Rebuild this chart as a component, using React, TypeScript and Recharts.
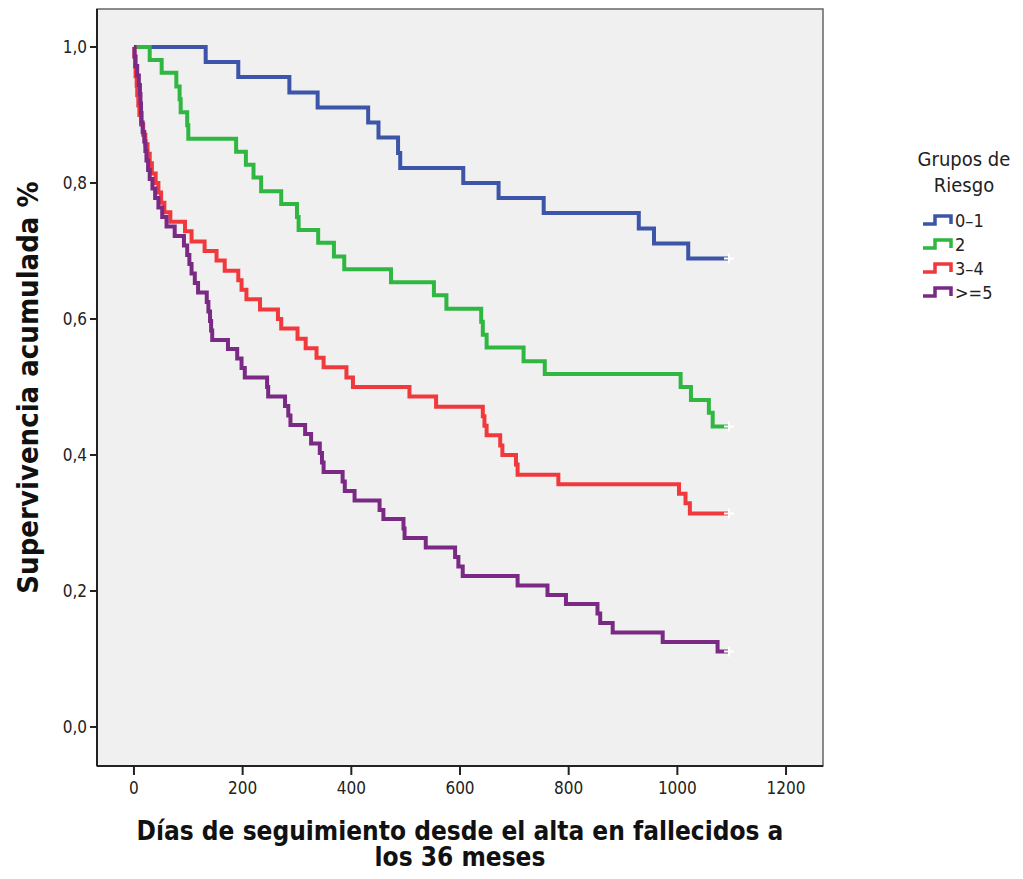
import { LineChart, Line, XAxis, YAxis, ReferenceArea, Label } from 'recharts'

// Kaplan-Meier estimates (days since discharge, cumulative survival)
const groupNames = ['0–1', '2', '3–4', '>=5']
const groupColors = ['#3d55a8', '#2fb742', '#f0393c', '#7a2a84']

const days01 = [0, 132, 192, 286, 338, 431, 450, 486, 490, 606, 671, 754, 929, 957, 1020, 1095]
const surv01 = [1, 0.978, 0.956, 0.933, 0.911, 0.889, 0.867, 0.844, 0.822, 0.8, 0.778, 0.756, 0.733, 0.711, 0.689, 0.689]

const days2 = [0, 29, 51, 78, 84, 86, 98, 100, 188, 206, 220, 234, 271, 300, 303, 339, 368, 387, 473, 552, 575, 639, 642, 649, 717, 756, 1006, 1025, 1058, 1065, 1095]
const surv2 = [1, 0.981, 0.962, 0.942, 0.923, 0.904, 0.885, 0.865, 0.846, 0.827, 0.808, 0.788, 0.769, 0.75, 0.731, 0.712, 0.692, 0.673, 0.654, 0.635, 0.615, 0.596, 0.577, 0.558, 0.538, 0.519, 0.5, 0.481, 0.462, 0.442, 0.442]

const days34 = [0, 1, 2, 3, 5, 6, 8, 10, 13, 17, 21, 25, 29, 33, 40, 45, 50, 56, 67, 94, 106, 130, 152, 167, 192, 198, 207, 232, 265, 271, 301, 316, 336, 349, 391, 403, 507, 556, 642, 645, 649, 674, 678, 703, 706, 781, 1003, 1015, 1023, 1095]
const surv34 = [1, 0.986, 0.971, 0.957, 0.943, 0.929, 0.914, 0.9, 0.886, 0.871, 0.857, 0.843, 0.829, 0.814, 0.8, 0.786, 0.771, 0.757, 0.743, 0.729, 0.714, 0.7, 0.686, 0.671, 0.657, 0.643, 0.629, 0.614, 0.6, 0.586, 0.571, 0.557, 0.543, 0.529, 0.514, 0.5, 0.486, 0.471, 0.457, 0.443, 0.429, 0.414, 0.4, 0.386, 0.371, 0.357, 0.343, 0.329, 0.314, 0.314]

const days5 = [0, 1, 3, 6, 9, 11, 12, 13, 14, 16, 19, 21, 23, 26, 29, 34, 39, 45, 52, 60, 75, 92, 98, 102, 106, 112, 118, 134, 137, 140, 142, 144, 173, 190, 198, 204, 245, 247, 278, 284, 288, 315, 326, 342, 346, 349, 384, 388, 406, 452, 459, 496, 498, 537, 591, 597, 605, 706, 761, 795, 853, 858, 881, 973, 1074, 1095]
const surv5 = [1, 0.986, 0.972, 0.958, 0.944, 0.931, 0.917, 0.903, 0.889, 0.875, 0.861, 0.847, 0.833, 0.819, 0.806, 0.792, 0.778, 0.764, 0.75, 0.736, 0.722, 0.708, 0.694, 0.681, 0.667, 0.653, 0.639, 0.625, 0.611, 0.597, 0.583, 0.569, 0.556, 0.542, 0.528, 0.514, 0.5, 0.486, 0.472, 0.458, 0.444, 0.431, 0.417, 0.403, 0.389, 0.375, 0.361, 0.347, 0.333, 0.319, 0.306, 0.292, 0.278, 0.264, 0.25, 0.236, 0.222, 0.208, 0.194, 0.181, 0.167, 0.153, 0.139, 0.125, 0.111, 0.111]

const xTicks = [0, 200, 400, 600, 800, 1000, 1200]
const yTicks = [0, 0.2, 0.4, 0.6, 0.8, 1]
const xDomain = [-68, 1268]
const yDomain = [-0.0574, 1.0559]

// last point of every curve is a censored observation
const toSeries = (days: number[], surv: number[]) =>
  days.map((t, i) => ({ t, s: surv[i], censored: i === days.length - 1 }))

const series = [
  toSeries(days01, surv01),
  toSeries(days2, surv2),
  toSeries(days34, surv34),
  toSeries(days5, surv5),
]

const FONT = '"DejaVu Sans Condensed", "DejaVu Sans", sans-serif'

const CensorMark = (props: any) => {
  const { cx, cy, payload, index } = props
  if (!payload?.censored || cx == null) return <g key={`c${index}`} />
  return (
    <path
      key={`c${index}`}
      d={`M${cx - 5},${cy} H${cx + 5} M${cx},${cy - 5} V${cy + 5}`}
      stroke='#ffffff'
      strokeWidth={2}
    />
  )
}

const YTitle = (props: any) => {
  const vb = props.viewBox || { x: 0, y: 0, height: 0 }
  const cx = 20
  const cy = vb.y + vb.height / 2
  return (
    <text
      x={cx}
      y={cy}
      transform={`rotate(-90 ${cx} ${cy})`}
      textAnchor='middle'
      dominantBaseline='central'
      fontFamily={FONT}
      fontWeight='bold'
      fontSize={29}
      fill='#111'
    >
      Supervivencia acumulada %
    </text>
  )
}

const XTitle = (props: any) => {
  const vb = props.viewBox || { x: 0, y: 0, width: 0 }
  const cx = vb.x + vb.width / 2
  return (
    <text textAnchor='middle' fontFamily={FONT} fontWeight='bold' fontSize={26} fill='#111'>
      <tspan x={cx} y={vb.y + 74}>Días de seguimiento desde el alta en fallecidos a</tspan>
      <tspan x={cx} y={vb.y + 100}>los 36 meses</tspan>
    </text>
  )
}

function RiskLegend() {
  return (
    <div
      style={{
        position: 'absolute',
        left: 886,
        top: 138,
        width: 140,
        fontFamily: FONT,
        color: '#222',
      }}
    >
      <div style={{ textAlign: 'center', fontSize: 20, lineHeight: '26px' }}>
        Grupos de
        <br />
        Riesgo
      </div>
      <div style={{ marginTop: 10, marginLeft: 28 }}>
        {groupNames.map((name, i) => (
          <div key={name} style={{ display: 'flex', alignItems: 'center', height: 24, fontSize: 18 }}>
            <svg width={32} height={14} style={{ marginRight: 1 }}>
              <path d='M1,11 H13 V3 H29 V11' fill='none' stroke={groupColors[i]} strokeWidth={3.5} />
            </svg>
            <span>{name}</span>
          </div>
        ))}
      </div>
    </div>
  )
}

export default function App() {
  return (
    <div style={{ position: 'relative', width: 1007, height: 863 }}>
      <LineChart width={1007} height={863} margin={{ top: 1, right: 192, left: 0, bottom: 0 }}>
        <XAxis
          dataKey='t'
          type='number'
          domain={xDomain}
          ticks={xTicks}
          allowDataOverflow
          height={105}
          axisLine={{ stroke: '#222', strokeWidth: 2 }}
          tickLine={{ stroke: '#222', strokeWidth: 2 }}
          tickSize={9}
          tickMargin={7}
          tick={{ fill: '#222', fontSize: 17, fontFamily: FONT }}
        >
          <Label content={<XTitle />} />
        </XAxis>
        <YAxis
          type='number'
          domain={yDomain}
          ticks={yTicks}
          allowDataOverflow
          width={89}
          axisLine={{ stroke: '#222', strokeWidth: 2 }}
          tickLine={{ stroke: '#222', strokeWidth: 2 }}
          tickSize={7}
          tickMargin={3}
          tickFormatter={(v: number) => v.toFixed(1).replace('.', ',')}
          tick={{ fill: '#222', fontSize: 17, fontFamily: FONT }}
        >
          <Label content={<YTitle />} />
        </YAxis>
        <ReferenceArea
          x1={xDomain[0]}
          x2={xDomain[1]}
          y1={yDomain[0]}
          y2={yDomain[1]}
          fill='#f0f0f0'
          fillOpacity={1}
          stroke='#666'
          strokeWidth={1.5}
        />
        {series.map((data, i) => (
          <Line
            key={groupNames[i]}
            data={data}
            dataKey='s'
            type='stepAfter'
            stroke={groupColors[i]}
            strokeWidth={4}
            dot={CensorMark}
            activeDot={false}
            isAnimationActive={false}
          />
        ))}
      </LineChart>
      <RiskLegend />
    </div>
  )
}
